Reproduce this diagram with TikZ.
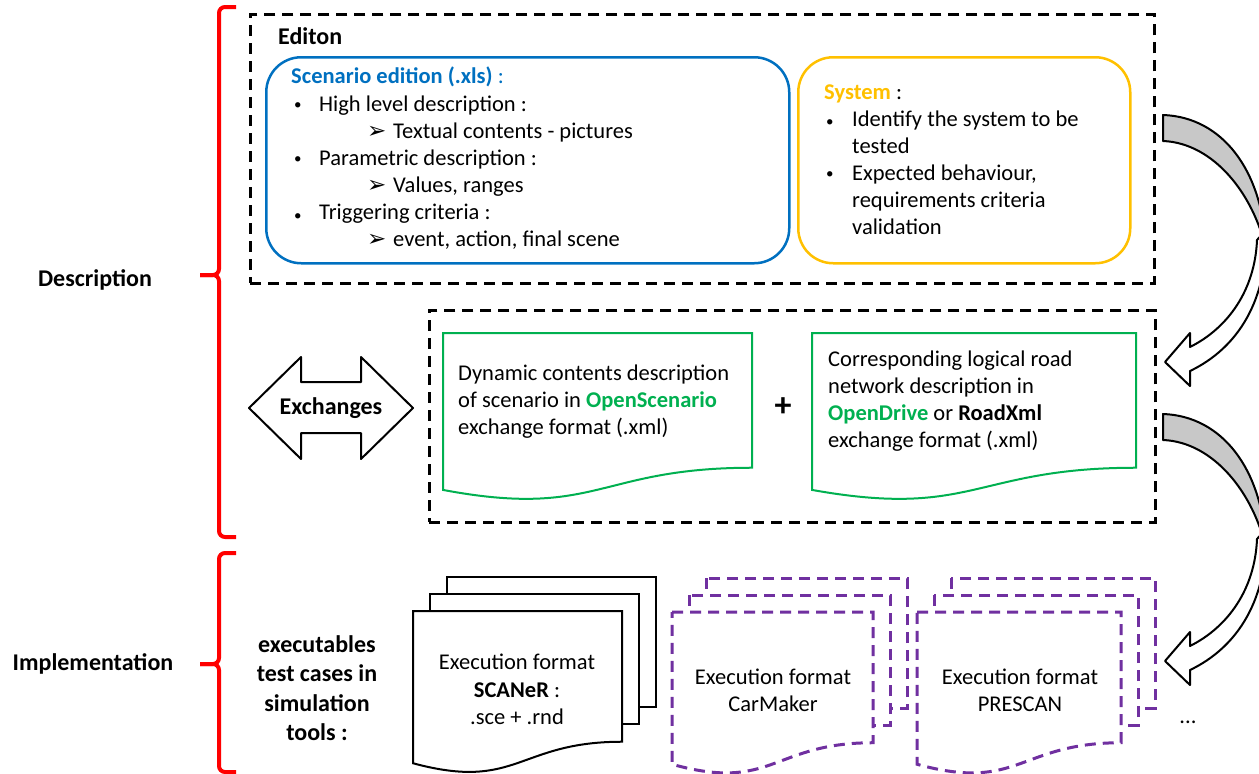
\documentclass[tikz,border=0pt]{standalone}
\usepackage{fontspec}
\setmainfont{Carlito}
\newfontfamily\symfont{DejaVu Sans}
\definecolor{scblue}{RGB}{0,112,192}
\definecolor{sysyellow}{RGB}{255,192,0}
\definecolor{opengreen}{RGB}{0,176,80}
\definecolor{toolpurple}{RGB}{112,48,160}
\definecolor{arrowgray}{RGB}{200,200,200}
\tikzset{
  every node/.style={inner sep=0pt, font=\fontsize{22.5}{27}\selectfont},
  txt/.style={anchor=base west},
  boldtxt/.style={font=\fontsize{24}{29.5}\selectfont\bfseries},
  brace/.style={draw=red, line width=4pt, rounded corners=6pt},
  dashbox/.style={draw, line width=2.5pt, dash pattern=on 11pt off 7pt},
  scenbox/.style={draw=scblue, line width=2.5pt, rounded corners=35pt},
  sysbox/.style={draw=sysyellow, line width=2.5pt, rounded corners=35pt},
  greendoc/.style={draw=opengreen, line width=2pt, fill=white},
  blackdoc/.style={draw, line width=2pt, fill=white},
  purpledoc/.style={draw=toolpurple, line width=3pt, dash pattern=on 11pt off 7pt, fill=white},
  flow/.style={draw, line width=2pt, line join=round},
}
% document outline: style, x, y, width, frame height
\newcommand{\docshape}[5]{%
  \draw[#1] (#2,#3) -- ({#2+#4},#3) -- ({#2+#4},{#3+0.802*#5})
    .. controls ({#2+0.5*#4},{#3+0.802*#5}) and ({#2+0.5*#4},{#3+1.107*#5})
    .. (#2,{#3+0.934*#5}) -- cycle;}
% stack of three documents: style, x, y, width
\newcommand{\docstack}[4]{%
  \draw[#1] ({#2+34},{#3-34}) rectangle ({#2+34+#4},{#3-34+130});
  \draw[#1] ({#2+17},{#3-17}) rectangle ({#2+17+#4},{#3-17+130});
  \docshape{#1}{#2}{#3}{#4}{163}}
\newcommand{\sublead}{{\symfont\fontsize{23}{23}\selectfont ➢}}
\newcommand{\bul}{{\fontsize{15}{15}\selectfont\textbullet}}
\begin{document}
\begin{tikzpicture}[x=1pt,y=-1pt]
\useasboundingbox (0,0) rectangle (1259,774);

% red braces
\draw[brace] (236,7) -- (219,7) -- (219,275) -- (200,275);
\draw[brace] (200,275) -- (219,275) -- (219,537) -- (236,537);
\draw[brace] (236,553) -- (219,553) -- (219,664) -- (200,664);
\draw[brace] (200,664) -- (219,664) -- (219,772) -- (236,772);
\node[boldtxt] (descr) at (95,280) {Description};
\node[boldtxt] (implem) at (93,664) {Implementation};

% edition
\node[dashbox, anchor=north west, minimum width=904pt, minimum height=269pt] (edit) at (249,13) {};
\node[txt, boldtxt] (editon) at (278,44) {Editon};
\node[scenbox, anchor=north west, minimum width=523pt, minimum height=206pt] (scen) at (265,56) {};
\node[txt] (sc0) at (291,83) {\textcolor{scblue}{\textbf{Scenario edition (.xls)} :}};
\node[txt] (sc1) at (294,109) {\bul};
\node[txt] (sc1t) at (319,111) {High level description :};
\node[txt] (sc2) at (367,138) {\sublead};
\node[txt] (sc2t) at (393,138) {Textual contents - pictures};
\node[txt] (sc3) at (294,163) {\bul};
\node[txt] (sc3t) at (319,165) {Parametric description :};
\node[txt] (sc4) at (367,192) {\sublead};
\node[txt] (sc4t) at (393,192) {Values, ranges};
\node[txt] (sc5) at (294,220) {\bul};
\node[txt] (sc5t) at (319,219) {Triggering criteria :};
\node[txt] (sc6) at (367,246) {\sublead};
\node[txt] (sc6t) at (393,246) {event, action, final scene};

\node[sysbox, anchor=north west, minimum width=332pt, minimum height=206pt] (sys) at (797,56) {};
\node[txt] (sy0) at (824,99) {\textcolor{sysyellow}{\textbf{System}} :};
\node[txt] (sy1) at (826,126) {\bul};
\node[txt] (sy1t) at (852,126) {Identify the system to be};
\node[txt] (sy2t) at (852,153) {tested};
\node[txt] (sy3) at (826,178) {\bul};
\node[txt] (sy3t) at (852,180) {Expected behaviour,};
\node[txt] (sy4t) at (852,207) {requirements criteria};
\node[txt] (sy5t) at (852,234) {validation};

% exchanges
\node[dashbox, anchor=north west, minimum width=726pt, minimum height=212pt] (exch) at (428,309) {};
\draw[flow] (249,408) -- (301,357) -- (301,382) -- (361,382) -- (361,357) -- (413,408)
  -- (361,459) -- (361,433) -- (301,433) -- (301,459) -- cycle;
\node[boldtxt] (exlab) at (331,408) {Exchanges};
\docshape{greendoc}{443}{333}{309}{168}
\node[txt] (dy1) at (458,380) {Dynamic contents description};
\node[txt] (dy2) at (458,407) {of scenario in \textcolor{opengreen}{\textbf{OpenScenario}}};
\node[txt] (dy3) at (458,434) {exchange format (.xml)};
\node[font=\fontsize{34}{34}\selectfont\bfseries] (plus) at (783,407) {+};
\docshape{greendoc}{812}{333}{324}{168}
\node[txt] (rd1) at (828,366) {Corresponding logical road};
\node[txt] (rd2) at (828,393) {network description in};
\node[txt] (rd3) at (828,420) {\textcolor{opengreen}{\textbf{OpenDrive}} or \textbf{RoadXml}};
\node[txt] (rd4) at (828,447) {exchange format (.xml)};

% curved arrows
\foreach \dy in {0,299} {
  \begin{scope}[shift={(0,\dy)}]
    \draw[flow, fill=white] (1266,230) .. controls (1268,300) and (1238,348) .. (1190,371)
      -- (1190,386) -- (1165,362) -- (1190,333) -- (1190,347)
      .. controls (1228,328) and (1255,290) .. (1257,240) -- cycle;
    \draw[flow, fill=arrowgray] (1163,115) .. controls (1222,117) and (1263,170) .. (1266,250)
      .. controls (1254,195) and (1214,143) .. (1163,141) -- cycle;
  \end{scope}
}

% implementation
\node[boldtxt, align=center] (exe) at (317,688) {executables\\test cases in\\simulation\\tools :};
\docstack{blackdoc}{413}{611}{209}
\node (sca1) at (517,662) {Execution format};
\node (sca2) at (517,690) {\textbf{SCANeR} :};
\node (sca3) at (517,717) {.sce + .rnd};
\docstack{purpledoc}{672}{612}{201}
\node (car1) at (773,677) {Execution format};
\node (car2) at (773,704) {CarMaker};
\docstack{purpledoc}{917}{612}{204}
\node (pre1) at (1020,677) {Execution format};
\node (pre2) at (1020,704) {PRESCAN};
\node (dots) at (1188,722) {...};
\end{tikzpicture}
\end{document}
